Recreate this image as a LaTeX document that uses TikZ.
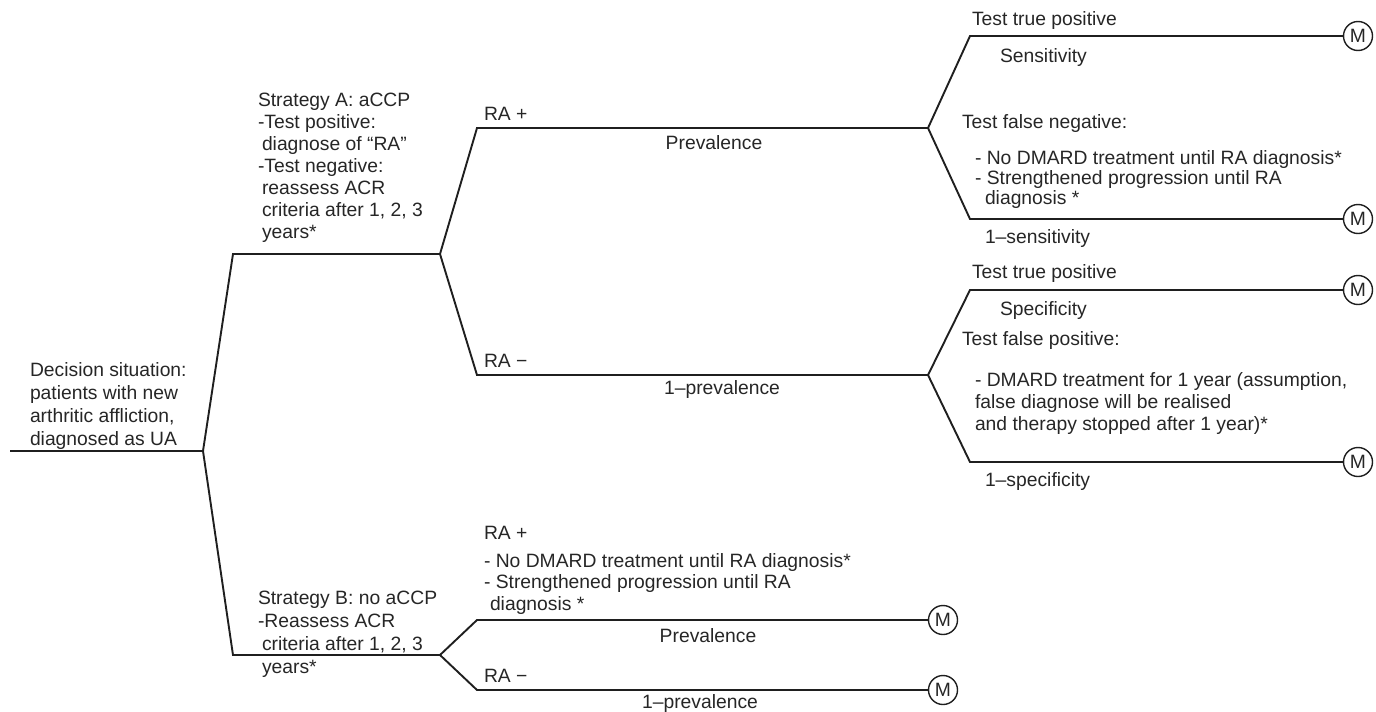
\documentclass[tikz,border=0pt]{standalone}
\usepackage{fontspec}
\setmainfont{Liberation Sans}
\begin{document}
\begin{tikzpicture}[x=1pt,y=-1pt,
  br/.style={line width=1.9pt, line join=miter, color=black!88},
  txt/.style={anchor=base west, inner sep=0pt, outer sep=0pt, align=left, color=black!85, font=\fontsize{19.3}{22}\selectfont},
  ctxt/.style={anchor=base, inner sep=0pt, outer sep=0pt, color=black!85, font=\fontsize{19.3}{22}\selectfont},
  mnode/.style={circle, draw=black!88, line width=1.4pt, minimum size=29pt, inner sep=0pt, text=black!85, font=\fontsize{19.3}{22}\selectfont}]
\useasboundingbox (0,0) rectangle (1376,712);
% tree points
\coordinate (s) at (10,451);
\coordinate (f0) at (203,451);
\coordinate (a) at (233,254);
\coordinate (fa) at (440,254);
\coordinate (b) at (233,655);
\coordinate (fb) at (440,655);
\coordinate (ap) at (477,128);
\coordinate (fap) at (928,128);
\coordinate (am) at (477,375);
\coordinate (fam) at (928,375);
\coordinate (t1) at (970,36);
\coordinate (t2) at (970,219);
\coordinate (t3) at (970,290);
\coordinate (t4) at (970,462);
\coordinate (t5) at (477,620);
\coordinate (t6) at (477,690);
\node[mnode] (m1) at (1358,36) {M};
\node[mnode] (m2) at (1358,219) {M};
\node[mnode] (m3) at (1358,290) {M};
\node[mnode] (m4) at (1358,462) {M};
\node[mnode] (m5) at (943,620) {M};
\node[mnode] (m6) at (943,690) {M};
% branches
\draw[br] (s) -- (f0) -- (a) -- (fa);
\draw[br] (f0) -- (b) -- (fb);
\draw[br] (fa) -- (ap) -- (fap);
\draw[br] (fa) -- (am) -- (fam);
\draw[br] (fap) -- (t1) -- (m1);
\draw[br] (fap) -- (t2) -- (m2);
\draw[br] (fam) -- (t3) -- (m3);
\draw[br] (fam) -- (t4) -- (m4);
\draw[br] (fb) -- (t5) -- (m5);
\draw[br] (fb) -- (t6) -- (m6);
% texts (base anchor = baseline of last line)
\node[txt, font=\fontsize{19.3}{23}\selectfont] (dec) at (30,445) {Decision situation:\\patients with new\\arthritic affliction,\\diagnosed as UA};
\node[txt] (sa) at (258,238) {Strategy A: aCCP\\-Test positive:\\\hspace{4pt}diagnose of “RA”\\-Test negative:\\\hspace{4pt}reassess ACR\\\hspace{4pt}criteria after 1, 2, 3\\\hspace{4pt}years*};
\node[txt] (rap) at (484,120) {RA +};
\node[ctxt] (prev) at (714,149) {Prevalence};
\node[txt] (ram) at (484,367) {RA −};
\node[ctxt] (oprev) at (722,394) {1–prevalence};
\node[txt] (ttp1) at (972,25) {Test true positive};
\node[txt] (sens) at (1000,62) {Sensitivity};
\node[txt] (tfn) at (962,128) {Test false negative:};
\node[txt, font=\fontsize{19.3}{20}\selectfont] (fnb) at (975,204) {- No DMARD treatment until RA diagnosis*\\- Strengthened progression until RA\\\hspace{10pt}diagnosis *};
\node[txt] (osens) at (985,243) {1–sensitivity};
\node[txt] (ttp2) at (972,278) {Test true positive};
\node[txt] (spec) at (1000,315) {Specificity};
\node[txt] (tfp) at (962,345) {Test false positive:};
\node[txt] (fpb) at (975,430) {- DMARD treatment for 1 year (assumption,\\false diagnose will be realised\\and therapy stopped after 1 year)*};
\node[txt] (ospec) at (985,486) {1–specificity};
\node[txt, font=\fontsize{19.3}{22.7}\selectfont] (sb) at (258,673) {Strategy B: no aCCP\\-Reassess ACR\\\hspace{4pt}criteria after 1, 2, 3\\\hspace{4pt}years*};
\node[txt] (rbp) at (484,539) {RA +};
\node[txt, font=\fontsize{19.3}{21.5}\selectfont] (bpb) at (484,610) {- No DMARD treatment until RA diagnosis*\\- Strengthened progression until RA\\\hspace{6pt}diagnosis *};
\node[ctxt] (bprev) at (708,642) {Prevalence};
\node[txt] (rbm) at (484,682) {RA −};
\node[ctxt] (boprev) at (700,708) {1–prevalence};
\end{tikzpicture}
\end{document}
